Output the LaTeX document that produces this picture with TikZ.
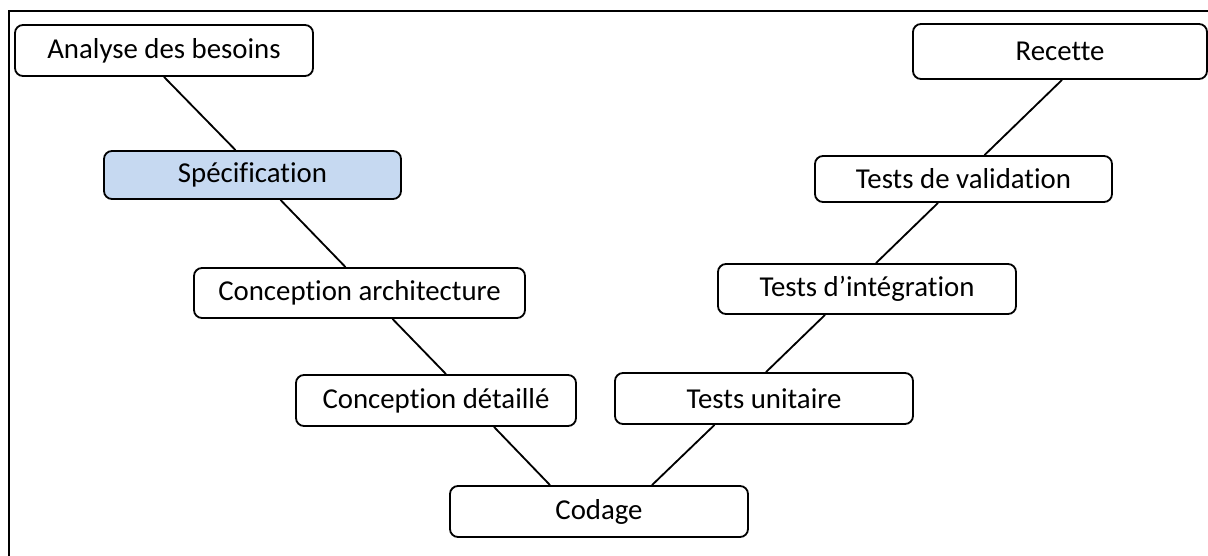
\documentclass[tikz,border=0pt]{standalone}
\usepackage{fontspec}
\setmainfont{Carlito}[Ligatures=NoCommon]
\usetikzlibrary{positioning}
\definecolor{specblue}{HTML}{C6D9F1}

\begin{document}
\begin{tikzpicture}[
    phase/.style={rectangle, draw, rounded corners=0.2cm, line width=1.3pt, fill=white,
        minimum width=7.45cm, minimum height=1.275cm, inner sep=0pt,
        font=\fontsize{20.5}{24}\selectfont},
    current/.style={phase, fill=specblue},
    link/.style={line width=1.3pt},
]
    \useasboundingbox (0,0) rectangle (30.2,13.875);

    % Frame
    \draw[line width=1.3pt] (0.225,-1) rectangle (31,13.6);

    % Left branch
    \node[phase] at (4.1,12.6125) (analyse) {Analyse des besoins};
    \node[current, minimum width=7.425cm, minimum height=1.2cm] at (6.3125,9.5) (spec) {Spécification};
    \node[phase, minimum width=8.275cm, minimum height=1.25cm] at (8.9875,6.55) (archi) {Conception architecture};
    \node[phase, minimum width=7cm] at (10.9,3.8625) (detail) {Conception détaillé};

    % Bottom
    \node[phase] at (14.975,1.0875) (codage) {Codage};

    % Right branch
    \node[phase] at (19.1,3.9125) (unit) {Tests unitaire};
    \node[phase, minimum height=1.25cm] at (21.675,6.65) (integ) {Tests d’intégration};
    \node[phase, minimum width=7.425cm, minimum height=1.15cm] at (24.0875,9.4) (valid) {Tests de validation};
    \node[phase, minimum width=7.35cm, minimum height=1.375cm] at (26.5,12.5875) (recette) {Recette};

    % Connectors
    \draw[link] (analyse.south) -- ([xshift=-0.425cm]spec.north);
    \draw[link] ([xshift=0.7cm]spec.south) -- ([xshift=-0.35cm]archi.north);
    \draw[link] ([xshift=0.825cm]archi.south) -- ([xshift=0.25cm]detail.north);
    \draw[link] ([xshift=1.45cm]detail.south) -- ([xshift=-1.225cm]codage.north);
    \draw[link] ([xshift=1.325cm]codage.north) -- ([xshift=-1.2375cm]unit.south);
    \draw[link] ([xshift=0.05cm]unit.north) -- ([xshift=-1.05cm]integ.south);
    \draw[link] ([xshift=0.225cm]integ.north) -- ([xshift=-0.6375cm]valid.south);
    \draw[link] ([xshift=0.525cm]valid.north) -- ([xshift=0.05cm]recette.south);

\end{tikzpicture}
\end{document}
